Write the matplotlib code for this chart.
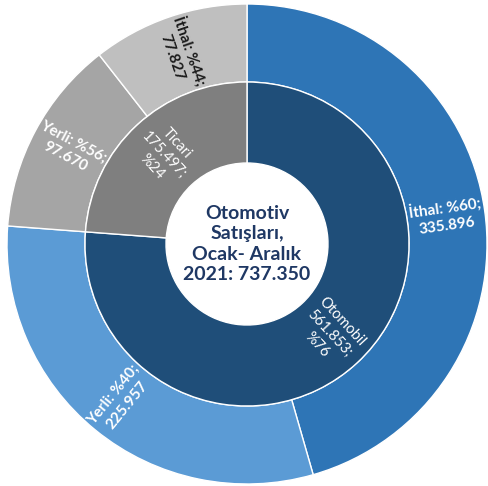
import matplotlib.pyplot as plt
import numpy as np

plt.rcParams["font.family"] = ["Lato", "DejaVu Sans"]

# Veriler
inner_labels = ["Otomobil", "Ticari"]
inner_values = [561.853, 175.497]
inner_pct = ["%76", "%24"]
inner_colors = ["#1F4E79", "#7F7F7F"]

outer_labels = ["İthal", "Yerli", "Yerli", "İthal"]
outer_values = [335.896, 225.957, 97.670, 77.827]
outer_pct = ["%60", "%40", "%56", "%44"]
outer_colors = ["#2E75B6", "#5B9BD5", "#A5A5A5", "#BFBFBF"]
outer_text_colors = ["white", "white", "white", "#1a1a1a"]

center_text = "Otomotiv\nSatışları,\nOcak- Aralık\n2021: 737.350"


def fmt(v):
    return f"{v:.3f}"


fig = plt.figure(figsize=(4.89, 4.86), dpi=100)
ax = fig.add_axes([0, 0, 1, 1])

r_out, r_mid, r_in = 1.0, 0.675, 0.3375
wp = dict(edgecolor="white", linewidth=1)

outer_w, _ = ax.pie(outer_values, radius=r_out, colors=outer_colors,
                    startangle=90, counterclock=False,
                    wedgeprops=dict(width=r_out - r_mid, **wp))
inner_w, _ = ax.pie(inner_values, radius=r_mid, colors=inner_colors,
                    startangle=90, counterclock=False,
                    wedgeprops=dict(width=r_mid - r_in, **wp))


def place(wedge, r, text, color, weight, size):
    # etiket dilimin ortasında, yarıçap yönünde döndürülmüş
    mid = (wedge.theta1 + wedge.theta2) / 2
    a = np.deg2rad(mid)
    rot = mid
    if mid > 90:
        rot = mid - 180
    elif mid < -90:
        rot = mid + 180
    ax.text(r * np.cos(a), r * np.sin(a), text, color=color, ha="center",
            va="center", rotation=rot, rotation_mode="anchor",
            fontsize=size, fontweight=weight, linespacing=1.3)


for w, lab, v, p, c in zip(outer_w, outer_labels, outer_values, outer_pct,
                           outer_text_colors):
    place(w, (r_out + r_mid) / 2, f"{lab}: {p};\n{fmt(v)}", c, "bold", 11)

for w, lab, v, p in zip(inner_w, inner_labels, inner_values, inner_pct):
    place(w, (r_mid + r_in) / 2, f"{lab}\n{fmt(v)};\n{p}", "white", "normal", 10.5)

ax.text(0, 0, center_text, ha="center", va="center", fontsize=14,
        fontweight="bold", color="#1F3864", linespacing=1.25)

ax.set_aspect("auto")
ax.set_xlim(-247 / 240, (489 - 247) / 240)
ax.set_ylim(-242 / 240, 244 / 240)
ax.axis("off")

plt.savefig("out.png", dpi=100)
